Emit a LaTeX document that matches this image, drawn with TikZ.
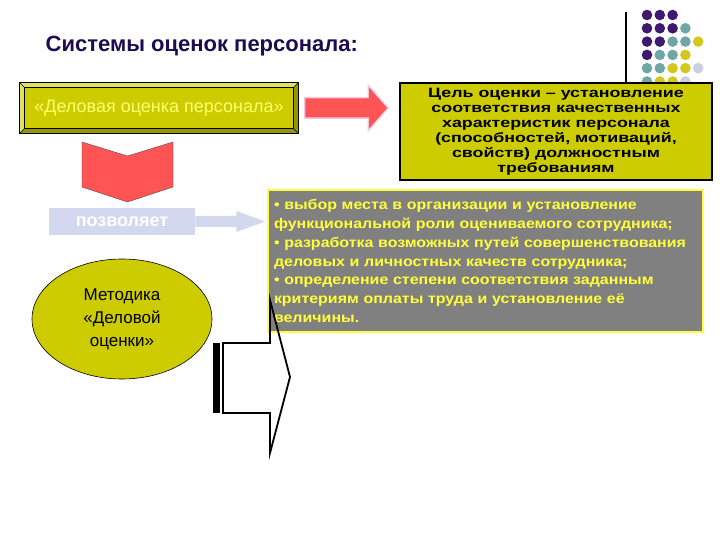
\documentclass[tikz,border=0pt]{standalone}
\usepackage{fontspec}
\setmainfont{Liberation Sans}
\usetikzlibrary{shapes.geometric,calc}

\definecolor{olivefill}{RGB}{204,204,0}
\definecolor{bevellight}{RGB}{226,226,90}
\definecolor{beveldark}{RGB}{150,150,0}
\definecolor{titleblue}{RGB}{28,12,80}
\definecolor{paleyellow}{RGB}{255,255,110}
\definecolor{redfill}{RGB}{255,84,84}
\definecolor{redglow}{RGB}{240,200,225}
\definecolor{lavfill}{RGB}{212,216,238}
\definecolor{greyfill}{RGB}{128,128,128}
\definecolor{greytext}{RGB}{255,255,60}
\definecolor{dotP}{RGB}{62,26,110}
\definecolor{dotT}{RGB}{112,166,166}
\definecolor{dotY}{RGB}{212,200,32}
\definecolor{dotL}{RGB}{202,206,226}

\begin{document}
\begin{tikzpicture}[
                    x=1pt, y=-1pt,
                    olivebox/.style={draw=black, fill=olivefill, inner sep=0pt},
                    bigtext/.style={font=\fontsize{17}{23}\selectfont},
                    semithick
                ]
                \tikzstyle{dot}=[draw=none]

                \useasboundingbox (0,0) rectangle (720,540);
                \fill[white] (0,0) rectangle (720,540);

                % title
                \node[anchor=west, text=titleblue,
                      font=\fontsize{22}{26}\bfseries\selectfont] (title) at (42,46) {Системы оценок персонала:};

                % corner decoration
                \draw[line width=1.2] (626,12) -- (626,84);
                \foreach \r/\row in {1/{dotP,dotP,dotP},
                                     2/{dotP,dotP,dotP,dotT},
                                     3/{dotP,dotP,dotT,dotT,dotY},
                                     4/{dotP,dotT,dotT,dotY},
                                     5/{dotT,dotT,dotY,dotY,dotL},
                                     6/{dotT,dotY,dotY,dotL}}
                    \foreach \c [count=\i] in \row
                        \fill[dot, \c] ({647+12.8*(\i-1)},{15+13.3*(\r-1)}) circle (5.3);

                % boxes
                \node[olivebox, minimum width=278, minimum height=50,
                      text=paleyellow, font=\fontsize{18}{22}\selectfont] (deloc) at (159,108) {«Деловая оценка персонала»};
                \fill[bevellight] (deloc.north west) -- (deloc.north east) -- ([shift={(-5,5)}]deloc.north east)
                    -- ([shift={(5,5)}]deloc.north west) -- ([shift={(5,-5)}]deloc.south west) -- (deloc.south west) -- cycle;
                \fill[beveldark] (deloc.south east) -- (deloc.north east) -- ([shift={(-5,5)}]deloc.north east)
                    -- ([shift={(-5,-5)}]deloc.south east) -- ([shift={(5,-5)}]deloc.south west) -- (deloc.south west) -- cycle;
                \draw (deloc.north west) rectangle (deloc.south east);
                \draw ([shift={(5,5)}]deloc.north west) rectangle ([shift={(-5,-5)}]deloc.south east);
                \foreach \a/\s in {north west/{5,5}, north east/{-5,5}, south west/{5,-5}, south east/{-5,-5}}
                    \draw (deloc.\a) -- ([shift={(\s)}]deloc.\a);

                \node[olivebox, line width=2, minimum width=312, minimum height=97, align=center,
                      font=\fontsize{13.5}{15}\bfseries\addfontfeature{FakeStretch=1.32}\selectfont] (cel) at (556,131.5)
                    {Цель оценки – установление\\соответствия качественных\\характеристик персонала\\(способностей, мотиваций,\\свойств) должностным\\требованиям};

                \node[draw=greytext, fill=greyfill, line width=1.2, minimum width=435, minimum height=142,
                      text width=423, inner sep=6, align=left, text=greytext,
                      font=\fontsize{14}{18.7}\bfseries\addfontfeature{FakeStretch=1.14}\selectfont] (vybor) at (485.5,261)
                    {• выбор места в организации и установление\\
                     функциональной роли оцениваемого сотрудника;\\
                     • разработка возможных путей совершенствования\\
                     деловых и личностных качеств сотрудника;\\
                     • определение степени соответствия заданным\\
                     критериям оплаты труда и установление её\\
                     величины.};

                \node[fill=lavfill, minimum width=146, minimum height=27, text=white,
                      font=\fontsize{18}{20}\bfseries\selectfont] (pozv) at (122,221.5) {позволяет};

                \node[ellipse, draw=black, fill=olivefill, minimum width=180, minimum height=120,
                      align=center, bigtext] (metod) at (122,319) {Методика\\«Деловой\\оценки»};

                % red arrow to the goal
                \coordinate (a1) at ($(deloc.east)+(7,0)$);
                \coordinate (a2) at ($(cel.west |- deloc.east)+(-12,0)$);
                \draw[redglow, line width=3, fill=redfill] ($(a1)+(0,-9.5)$) -- ($(a2)+(-18,-9.5)$) -- ($(a2)+(-18,-20.5)$)
                    -- (a2) -- ($(a2)+(-18,20.5)$) -- ($(a2)+(-18,9.5)$) -- ($(a1)+(0,9.5)$) -- cycle;
                \fill[redfill] ($(a1)+(0,-9.5)$) -- ($(a2)+(-18,-9.5)$) -- ($(a2)+(-18,-20.5)$)
                    -- (a2) -- ($(a2)+(-18,20.5)$) -- ($(a2)+(-18,9.5)$) -- ($(a1)+(0,9.5)$) -- cycle;

                % chevron down
                \draw[fill=redfill, draw=black!70, thin] (82,142) -- (127.5,156) -- (173,142) -- (173,187)
                    -- (127.5,202) -- (82,187) -- cycle;

                % pale arrow to the list
                \coordinate (b1) at (pozv.east);
                \coordinate (b2) at (vybor.west |- pozv.east);
                \fill[lavfill] ($(b1)+(0,-5.5)$) -- ($(b2)+(-31,-5.5)$) -- ($(b2)+(-31,-10.5)$) -- ($(b2)+(-2,0)$)
                    -- ($(b2)+(-31,10.5)$) -- ($(b2)+(-31,5.5)$) -- ($(b1)+(0,5.5)$) -- cycle;

                % big outlined arrow
                \fill (213,343) rectangle (220,413);
                \draw[line width=1.8, line join=miter] (223,343) -- (270,343) -- (270,300) -- (290,377)
                    -- (270,453) -- (270,413) -- (223,413) -- cycle;

            \end{tikzpicture}
\end{document}
